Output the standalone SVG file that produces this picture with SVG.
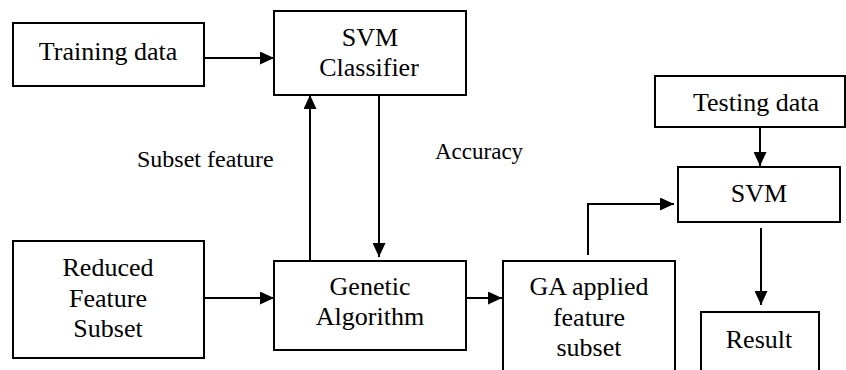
<svg xmlns="http://www.w3.org/2000/svg" width="846" height="370" viewBox="0 0 846 370">
<defs>
<style>
.box{fill:#fff;stroke:#000;stroke-width:2}
.lbl{font-family:'Liberation Serif','Times New Roman',Times,'DejaVu Serif',serif;font-size:26px;fill:#000;text-anchor:middle}
.elbl{font-family:'Liberation Serif','Times New Roman',Times,'DejaVu Serif',serif;font-size:24px;fill:#000}
.conn{fill:none;stroke:#000;stroke-width:2;marker-end:url(#arr)}
</style>
<marker id="arr" markerUnits="userSpaceOnUse" markerWidth="14" markerHeight="13" refX="14" refY="6.5" orient="auto">
<path d="M0,0 L14,6.5 L0,13 z" fill="#000"/>
</marker>
</defs>
<rect width="846" height="370" fill="#fff"/>
<g id="training">
<rect class="box" x="13" y="23" width="191" height="63"/>
<text class="lbl" x="108" y="60" font-family="Liberation Serif">Training data</text>
</g>
<g id="svm-classifier">
<rect class="box" x="274" y="11" width="192" height="84"/>
<text class="lbl" x="370" y="46">SVM</text>
<text class="lbl" x="369" y="76">Classifier</text>
</g>
<g id="reduced">
<rect class="box" x="13" y="241" width="191" height="117"/>
<text class="lbl" x="108" y="276">Reduced</text>
<text class="lbl" x="108" y="307">Feature</text>
<text class="lbl" x="108" y="337">Subset</text>
</g>
<g id="genetic">
<rect class="box" x="274" y="261" width="192" height="89"/>
<text class="lbl" x="370" y="295">Genetic</text>
<text class="lbl" x="370" y="325">Algorithm</text>
</g>
<g id="ga-applied">
<rect class="box" x="503" y="261" width="172" height="120"/>
<text class="lbl" x="589" y="295">GA applied</text>
<text class="lbl" x="589" y="326">feature</text>
<text class="lbl" x="589" y="356">subset</text>
</g>
<g id="testing">
<rect class="box" x="655" y="76" width="190" height="51"/>
<text class="lbl" x="756" y="111">Testing data</text>
</g>
<g id="svm">
<rect class="box" x="678" y="167" width="162" height="55"/>
<text class="lbl" x="759" y="202">SVM</text>
</g>
<g id="result">
<rect class="box" x="701" y="312" width="118" height="70"/>
<text class="lbl" x="759" y="348">Result</text>
</g>
<g id="connectors">
<line class="conn" x1="204" y1="58" x2="274" y2="58"/>
<line class="conn" x1="310" y1="261" x2="310" y2="95"/>
<line class="conn" x1="379" y1="95" x2="379" y2="257"/>
<line class="conn" x1="204" y1="298" x2="274" y2="298"/>
<line class="conn" x1="466" y1="298" x2="502" y2="298"/>
<polyline class="conn" points="588,255 588,204 674,204"/>
<line class="conn" x1="760" y1="127" x2="760" y2="166"/>
<line class="conn" x1="761" y1="228" x2="761" y2="305"/>
<text class="elbl" x="137" y="167">Subset feature</text>
<text class="elbl" x="435" y="159" style="font-size:23px">Accuracy</text>
</g>
</svg>
